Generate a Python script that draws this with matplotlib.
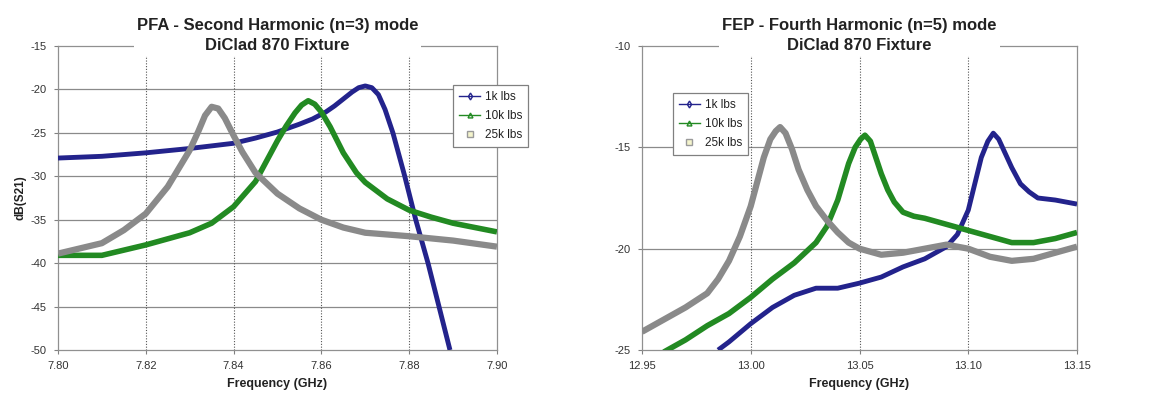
import matplotlib.pyplot as plt
from matplotlib.lines import Line2D

plt.rcParams['font.family'] = ['Liberation Sans', 'DejaVu Sans']
plt.rcParams['axes.unicode_minus'] = False

# ---- PFA, second harmonic (left panel) ----
pfa_f_1k = [7.800, 7.810, 7.820, 7.830, 7.840, 7.845, 7.850, 7.855, 7.858, 7.861,
            7.863, 7.865, 7.867, 7.8685, 7.870, 7.8715, 7.873, 7.8745, 7.8763,
            7.879, 7.8815, 7.8843, 7.8868, 7.8893]
pfa_db_1k = [-27.9, -27.7, -27.3, -26.8, -26.2, -25.6, -24.9, -24.0, -23.4, -22.6,
             -21.9, -21.1, -20.3, -19.8, -19.6, -19.8, -20.6, -22.3, -25.0,
             -30.0, -35.0, -40.0, -45.0, -50.0]

pfa_f_10k = [7.800, 7.810, 7.820, 7.830, 7.835, 7.840, 7.845, 7.850, 7.852, 7.854,
             7.8555, 7.857, 7.8585, 7.860, 7.862, 7.865, 7.868, 7.870, 7.875,
             7.880, 7.885, 7.890, 7.900]
pfa_db_10k = [-39.1, -39.1, -37.9, -36.5, -35.4, -33.5, -30.6, -25.9, -24.2, -22.7,
              -21.8, -21.3, -21.7, -22.6, -24.3, -27.3, -29.6, -30.7, -32.6,
              -33.9, -34.7, -35.4, -36.4]

pfa_f_25k = [7.800, 7.810, 7.815, 7.820, 7.825, 7.830, 7.832, 7.8335, 7.835, 7.8365,
             7.838, 7.840, 7.842, 7.845, 7.850, 7.855, 7.860, 7.865, 7.870, 7.880,
             7.890, 7.900]
pfa_db_25k = [-38.9, -37.7, -36.2, -34.3, -31.2, -27.0, -24.8, -23.0, -22.0, -22.2,
              -23.3, -25.3, -27.2, -29.6, -32.0, -33.7, -35.0, -35.9, -36.5, -36.9,
              -37.4, -38.1]

# ---- FEP, fourth harmonic (right panel) ----
fep_f_1k = [12.985, 12.990, 13.000, 13.010, 13.020, 13.030, 13.040, 13.050, 13.060,
            13.070, 13.080, 13.090, 13.095, 13.100, 13.103, 13.106, 13.109, 13.1115,
            13.114, 13.117, 13.120, 13.124, 13.128, 13.132, 13.140, 13.150]
fep_db_1k = [-25.0, -24.6, -23.7, -22.9, -22.3, -21.95, -21.95, -21.7, -21.4,
             -20.9, -20.5, -19.9, -19.3, -18.1, -16.8, -15.5, -14.7, -14.3,
             -14.6, -15.3, -16.0, -16.8, -17.2, -17.5, -17.6, -17.8]

fep_f_10k = [12.960, 12.970, 12.980, 12.990, 13.000, 13.010, 13.020, 13.030, 13.035,
             13.040, 13.045, 13.048, 13.0505, 13.0525, 13.055, 13.0575, 13.060,
             13.063, 13.066, 13.070, 13.075, 13.080, 13.090, 13.100, 13.110, 13.120,
             13.130, 13.140, 13.150]
fep_db_10k = [-25.1, -24.5, -23.8, -23.2, -22.4, -21.5, -20.7, -19.7, -18.9,
              -17.6, -15.8, -15.0, -14.6, -14.4, -14.7, -15.5, -16.3,
              -17.1, -17.7, -18.2, -18.4, -18.5, -18.8, -19.1, -19.4, -19.7,
              -19.7, -19.5, -19.2]

fep_f_25k = [12.950, 12.960, 12.970, 12.980, 12.985, 12.990, 12.995, 13.000, 13.003,
             13.006, 13.009, 13.0115, 13.0135, 13.016, 13.019, 13.022, 13.026,
             13.030, 13.035, 13.040, 13.045, 13.050, 13.060, 13.070, 13.080, 13.090,
             13.100, 13.110, 13.120, 13.130, 13.140, 13.150]
fep_db_25k = [-24.1, -23.5, -22.9, -22.2, -21.5, -20.6, -19.4, -17.9, -16.7,
              -15.5, -14.6, -14.2, -14.0, -14.3, -15.1, -16.1, -17.1,
              -17.9, -18.6, -19.2, -19.7, -20.0, -20.3, -20.2,
              -20.0, -19.8, -20.0, -20.4, -20.6, -20.5, -20.2, -19.9]

labels = ['1k lbs', '10k lbs', '25k lbs']
colors = ['#23238c', '#228a22', '#8a8a8a']
markers = ['d', '^', 's']
widths = [3.5, 4.0, 4.5]


def style_axes(ax, title, xticks, xlabels, yticks, xlim, ylim):
    ax.set_xlim(xlim)
    ax.set_ylim(ylim)
    ax.set_xticks(xticks)
    ax.set_xticklabels(xlabels)
    ax.set_yticks(yticks)
    ax.tick_params(labelsize=8, labelcolor='#333333', length=3,
                   color='#808080', pad=5)
    for s in ax.spines.values():
        s.set_color('#909090')
        s.set_linewidth(0.9)
    for y in yticks[1:-1]:
        ax.axhline(y, color='#8a8a8a', lw=0.9, zorder=0)
    for x in xticks[1:-1]:
        ax.axvline(x, color='#555555', lw=0.8, ls=(0, (1, 1.5)), zorder=0)
    ax.set_xlabel('Frequency (GHz)', fontsize=9, fontweight='bold',
                  color='#222222', labelpad=5)
    ax.text(0.5, 1.034, title, transform=ax.transAxes, ha='center', va='center',
            fontsize=12, fontweight='bold', linespacing=1.38, zorder=10,
            color='#222222',
            bbox=dict(facecolor='white', edgecolor='none', pad=2))


fig = plt.figure(figsize=(11.53, 4.07), dpi=100)
ax1 = fig.add_axes([0.0503, 0.140, 0.3807, 0.747])
ax2 = fig.add_axes([0.5568, 0.140, 0.3773, 0.747])

for f, v, c, w in zip([pfa_f_1k, pfa_f_10k, pfa_f_25k],
                      [pfa_db_1k, pfa_db_10k, pfa_db_25k], colors, widths):
    ax1.plot(f, v, color=c, lw=w, solid_capstyle='butt',
             solid_joinstyle='round', zorder=3)
for f, v, c, w in zip([fep_f_1k, fep_f_10k, fep_f_25k],
                      [fep_db_1k, fep_db_10k, fep_db_25k], colors, widths):
    ax2.plot(f, v, color=c, lw=w, solid_capstyle='butt',
             solid_joinstyle='round', zorder=3)

style_axes(ax1, 'PFA - Second Harmonic (n=3) mode\nDiClad 870 Fixture',
           [7.80, 7.82, 7.84, 7.86, 7.88, 7.90],
           ['7.80', '7.82', '7.84', '7.86', '7.88', '7.90'],
           [-50, -45, -40, -35, -30, -25, -20, -15], (7.80, 7.90), (-50, -15))
ax1.set_ylabel('dB(S21)', fontsize=8.5, fontweight='bold', color='#222222',
               labelpad=3)

style_axes(ax2, 'FEP - Fourth Harmonic (n=5) mode\nDiClad 870 Fixture',
           [12.95, 13.00, 13.05, 13.10, 13.15],
           ['12.95', '13.00', '13.05', '13.10', '13.15'],
           [-25, -20, -15, -10], (12.95, 13.15), (-25, -10))

handles = [Line2D([], [], color=c, lw=1, marker=m, ms=3.5, mfc='none')
           for c, m in zip(colors, markers)]
handles[2] = Line2D([], [], color='none', marker='s', ms=4, mfc='#f4f4cc',
                    mec='#9a9a9a')
for ax, anchor in [(ax1, (0.90, 0.872)), (ax2, (0.071, 0.845))]:
    leg = ax.legend(handles, labels, loc='upper left', bbox_to_anchor=anchor,
                    borderaxespad=0, fontsize=8.5, fancybox=False,
                    edgecolor='#808080', framealpha=1, handlelength=1.8,
                    labelspacing=0.6, borderpad=0.5, handletextpad=0.4)
    leg.get_frame().set_linewidth(0.9)
    for t in leg.get_texts():
        t.set_color('#222222')

fig.savefig('out.png', dpi=100)
